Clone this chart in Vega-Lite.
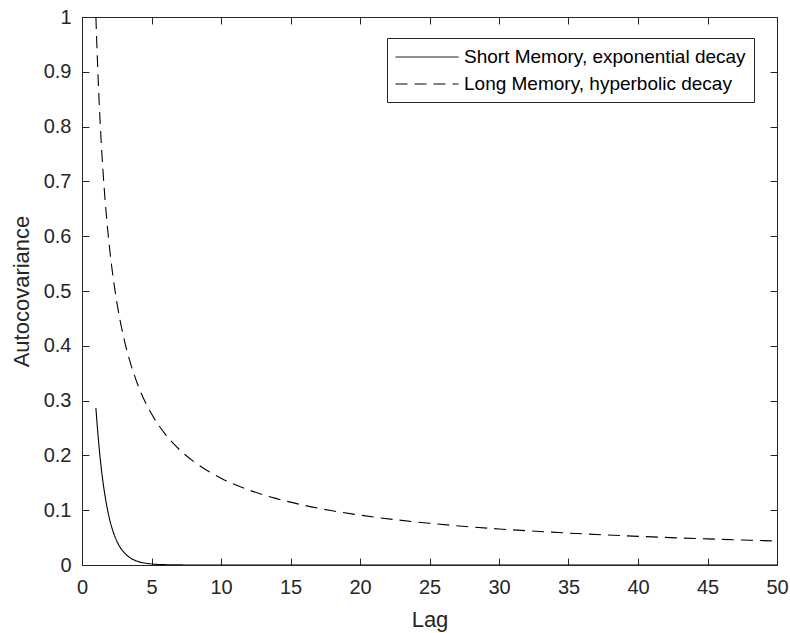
{
  "$schema": "https://vega.github.io/schema/vega-lite/v6.json",
  "width": 695,
  "height": 548,
  "autosize": {"type": "none"},
  "padding": {"left": 82, "top": 17, "right": 13, "bottom": 68},
  "background": "white",
  "config": {
    "font": "Liberation Sans",
    "view": {"stroke": "#262626", "strokeWidth": 1},
    "axis": {
      "grid": false,
      "domainColor": "#262626",
      "tickColor": "#262626",
      "labelColor": "#262626",
      "titleColor": "#262626",
      "labelFont": "Liberation Sans",
      "titleFont": "Liberation Sans",
      "labelFontSize": 20,
      "titleFontSize": 22,
      "titleFontWeight": "normal",
      "labelFlush": false,
      "labelOverlap": false,
      "tickSize": -7
    }
  },
  "data": {
    "values": [
      {"lag": 1, "value": 0.2865, "series": "Short Memory, exponential decay"},
      {"lag": 1.125, "value": 0.2451, "series": "Short Memory, exponential decay"},
      {"lag": 1.25, "value": 0.2096, "series": "Short Memory, exponential decay"},
      {"lag": 1.375, "value": 0.1793, "series": "Short Memory, exponential decay"},
      {"lag": 1.5, "value": 0.1534, "series": "Short Memory, exponential decay"},
      {"lag": 1.75, "value": 0.1122, "series": "Short Memory, exponential decay"},
      {"lag": 2, "value": 0.0821, "series": "Short Memory, exponential decay"},
      {"lag": 2.25, "value": 0.0601, "series": "Short Memory, exponential decay"},
      {"lag": 2.5, "value": 0.0439, "series": "Short Memory, exponential decay"},
      {"lag": 2.75, "value": 0.0321, "series": "Short Memory, exponential decay"},
      {"lag": 3, "value": 0.0235, "series": "Short Memory, exponential decay"},
      {"lag": 3.5, "value": 0.0126, "series": "Short Memory, exponential decay"},
      {"lag": 4, "value": 0.0067, "series": "Short Memory, exponential decay"},
      {"lag": 4.5, "value": 0.0036, "series": "Short Memory, exponential decay"},
      {"lag": 5, "value": 0.0019, "series": "Short Memory, exponential decay"},
      {"lag": 6, "value": 0.0006, "series": "Short Memory, exponential decay"},
      {"lag": 7, "value": 0.0002, "series": "Short Memory, exponential decay"},
      {"lag": 8, "value": 0.00005, "series": "Short Memory, exponential decay"},
      {"lag": 10, "value": 0, "series": "Short Memory, exponential decay"},
      {"lag": 20, "value": 0, "series": "Short Memory, exponential decay"},
      {"lag": 30, "value": 0, "series": "Short Memory, exponential decay"},
      {"lag": 40, "value": 0, "series": "Short Memory, exponential decay"},
      {"lag": 50, "value": 0, "series": "Short Memory, exponential decay"},
      {"lag": 1, "value": 1, "series": "Long Memory, hyperbolic decay"},
      {"lag": 1.125, "value": 0.9101, "series": "Long Memory, hyperbolic decay"},
      {"lag": 1.25, "value": 0.8365, "series": "Long Memory, hyperbolic decay"},
      {"lag": 1.5, "value": 0.723, "series": "Long Memory, hyperbolic decay"},
      {"lag": 1.75, "value": 0.6391, "series": "Long Memory, hyperbolic decay"},
      {"lag": 2, "value": 0.5743, "series": "Long Memory, hyperbolic decay"},
      {"lag": 2.5, "value": 0.4805, "series": "Long Memory, hyperbolic decay"},
      {"lag": 3, "value": 0.4152, "series": "Long Memory, hyperbolic decay"},
      {"lag": 3.5, "value": 0.3671, "series": "Long Memory, hyperbolic decay"},
      {"lag": 4, "value": 0.3299, "series": "Long Memory, hyperbolic decay"},
      {"lag": 5, "value": 0.2759, "series": "Long Memory, hyperbolic decay"},
      {"lag": 6, "value": 0.2385, "series": "Long Memory, hyperbolic decay"},
      {"lag": 7, "value": 0.2108, "series": "Long Memory, hyperbolic decay"},
      {"lag": 8, "value": 0.1895, "series": "Long Memory, hyperbolic decay"},
      {"lag": 9, "value": 0.1724, "series": "Long Memory, hyperbolic decay"},
      {"lag": 10, "value": 0.1585, "series": "Long Memory, hyperbolic decay"},
      {"lag": 12, "value": 0.137, "series": "Long Memory, hyperbolic decay"},
      {"lag": 14, "value": 0.1211, "series": "Long Memory, hyperbolic decay"},
      {"lag": 16, "value": 0.1088, "series": "Long Memory, hyperbolic decay"},
      {"lag": 18, "value": 0.099, "series": "Long Memory, hyperbolic decay"},
      {"lag": 20, "value": 0.091, "series": "Long Memory, hyperbolic decay"},
      {"lag": 25, "value": 0.0761, "series": "Long Memory, hyperbolic decay"},
      {"lag": 30, "value": 0.0658, "series": "Long Memory, hyperbolic decay"},
      {"lag": 35, "value": 0.0582, "series": "Long Memory, hyperbolic decay"},
      {"lag": 40, "value": 0.0523, "series": "Long Memory, hyperbolic decay"},
      {"lag": 45, "value": 0.0476, "series": "Long Memory, hyperbolic decay"},
      {"lag": 50, "value": 0.0437, "series": "Long Memory, hyperbolic decay"}
    ]
  },
  "layer": [
    {
      "mark": {"type": "line", "strokeWidth": 1.1, "interpolate": "monotone", "clip": true},
      "encoding": {
        "x": {
          "field": "lag", "type": "quantitative",
          "scale": {"domain": [0, 50], "nice": false, "zero": false},
          "axis": {"title": "Lag", "values": [0,5,10,15,20,25,30,35,40,45,50], "labelPadding": 19, "titlePadding": 12}
        },
        "y": {
          "field": "value", "type": "quantitative",
          "scale": {"domain": [0, 1], "nice": false},
          "axis": {"title": "Autocovariance", "values": [0,0.1,0.2,0.3,0.4,0.5,0.6,0.7,0.8,0.9,1], "format": ".1~f", "labelPadding": 18, "titlePadding": 10}
        },
        "color": {
          "field": "series", "type": "nominal",
          "scale": {"domain": ["Short Memory, exponential decay", "Long Memory, hyperbolic decay"], "range": ["black", "black"]},
          "legend": {
            "title": null,
            "orient": "none",
            "legendX": 305,
            "legendY": 21,
            "strokeColor": "#262626",
            "fillColor": "white",
            "padding": 8,
            "labelFontSize": 19,
            "labelFont": "Liberation Sans",
            "labelColor": "black",
            "labelLimit": 0,
            "symbolType": "M-1,0H5",
            "symbolSize": 441,
            "symbolStrokeWidth": 1,
            "rowPadding": 6,
            "labelOffset": 47
          }
        },
        "strokeDash": {
          "field": "series", "type": "nominal",
          "scale": {"domain": ["Short Memory, exponential decay", "Long Memory, hyperbolic decay"], "range": [[1, 0], [12, 7]]},
          "legend": {
            "title": null,
            "orient": "none",
            "legendX": 305,
            "legendY": 21,
            "strokeColor": "#262626",
            "fillColor": "white",
            "padding": 8,
            "labelFontSize": 19,
            "labelFont": "Liberation Sans",
            "labelColor": "black",
            "labelLimit": 0,
            "symbolType": "M-1,0H5",
            "symbolSize": 441,
            "symbolStrokeWidth": 1,
            "rowPadding": 6,
            "labelOffset": 47
          }
        }
      }
    },
    {
      "mark": {"type": "point", "opacity": 0},
      "encoding": {
        "x": {"field": "lag", "type": "quantitative",
          "scale": {"domain": [0, 50], "nice": false, "zero": false},
          "axis": {"orient": "top", "title": null, "labels": false, "values": [0,5,10,15,20,25,30,35,40,45,50]}},
        "y": {"field": "value", "type": "quantitative",
          "scale": {"domain": [0, 1], "nice": false},
          "axis": {"orient": "right", "title": null, "labels": false, "values": [0,0.1,0.2,0.3,0.4,0.5,0.6,0.7,0.8,0.9,1]}}
      }
    }
  ],
  "resolve": {"axis": {"x": "independent", "y": "independent"}}
}
